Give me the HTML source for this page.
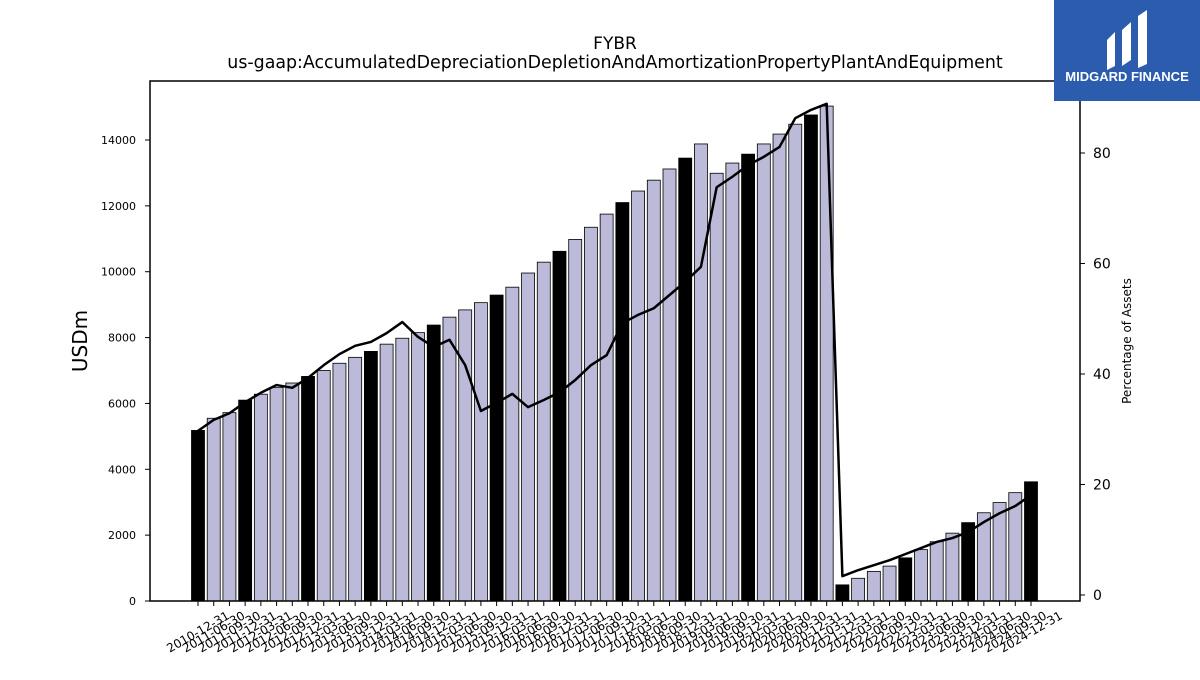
<!DOCTYPE html>
<html><head><meta charset="utf-8"><style>
body{margin:0;background:#fff;width:1200px;height:675px;overflow:hidden;font-family:"Liberation Sans","DejaVu Sans",sans-serif}
</style></head><body>
<svg id="chart" width="1200" height="675" xmlns="http://www.w3.org/2000/svg" font-family="DejaVu Sans, Liberation Sans, sans-serif">
<text x="615" y="49" text-anchor="middle" font-size="17">FYBR</text>
<text x="615" y="68" text-anchor="middle" font-size="17.4">us-gaap:AccumulatedDepreciationDepletionAndAmortizationPropertyPlantAndEquipment</text>
<g id="bars"></g>
<g id="line"></g>
<rect x="150" y="81" width="930" height="520" fill="none" stroke="#000" stroke-width="1.5"/>
<g id="axes"></g>
<text transform="translate(87,341) rotate(-90)" text-anchor="middle" font-size="20">USDm</text>
<text transform="translate(1131,341) rotate(-90)" text-anchor="middle" font-size="12">Percentage of Assets</text>
<g>
<rect x="1054" y="0" width="146" height="101" fill="#2b5cad"/>
<path d="M1107 40 L1115 32 L1115 66 L1107 70 Z M1122 30 L1131 22 L1131 60 L1122 66 Z M1138 16 L1147 10 L1147 64 L1138 68 Z" fill="#fff"/>
<text x="1127" y="81" text-anchor="middle" font-size="13" font-weight="bold" fill="#fff" font-family="Liberation Sans, sans-serif">MIDGARD FINANCE</text>
</g>
</svg>
<script>
const dates=["2010-12-31","2011-06-30","2011-09-30","2011-12-31","2012-03-31","2012-06-30","2012-09-30","2012-12-31","2013-03-31","2013-06-30","2013-09-30","2013-12-31","2014-03-31","2014-06-30","2014-09-30","2014-12-31","2015-03-31","2015-06-30","2015-09-30","2015-12-31","2016-03-31","2016-06-30","2016-09-30","2016-12-31","2017-03-31","2017-06-30","2017-09-30","2017-12-31","2018-03-31","2018-06-30","2018-09-30","2018-12-31","2019-03-31","2019-06-30","2019-09-30","2019-12-31","2020-03-31","2020-06-30","2020-09-30","2020-12-31","2021-03-31","2021-12-31","2022-03-31","2022-06-30","2022-09-30","2022-12-31","2023-03-31","2023-06-30","2023-09-30","2023-12-31","2024-03-31","2024-06-30","2024-09-30","2024-12-31"];
const values=[5180,5550,5720,6100,6280,6480,6620,6820,7000,7220,7400,7580,7800,7980,8150,8380,8620,8840,9060,9290,9530,9960,10290,10620,10980,11350,11750,12100,12450,12780,13120,13450,13880,12990,13300,13570,13880,14180,14480,14760,15030,490,690,900,1060,1310,1560,1800,2060,2380,2680,2990,3290,3620];
const pct=[29.7,31.7,32.9,34.9,36.6,38.0,37.5,39.3,41.6,43.6,45.1,45.8,47.4,49.4,46.7,44.9,46.2,41.6,33.3,34.8,36.4,34.0,35.3,36.7,38.9,41.6,43.4,49.2,50.7,51.9,54.3,56.7,59.4,73.8,75.7,77.8,79.3,81.1,86.3,87.8,88.9,3.4,4.5,5.4,6.3,7.4,8.5,9.6,10.3,11.4,13.2,14.8,16.1,18.1];
const leftTicks=[0,2000,4000,6000,8000,10000,12000,14000];
const rightTicks=[0,20,40,60,80];
const NS="http://www.w3.org/2000/svg";
function mk(t,a,p){const e=document.createElementNS(NS,t);for(const k in a)e.setAttribute(k,a[k]);p.appendChild(e);return e;}
const x0=198,x1=1031;
function xs(i){return x0+(x1-x0)*i/(dates.length-1);}
function yl(v){return 601-v*(461/14000);}
function yr(v){return 595-v*(442/80);}
const bars=document.getElementById('bars'),axes=document.getElementById('axes'),line=document.getElementById('line');
values.forEach((v,i)=>{
 const black=dates[i].endsWith('12-31');
 const r=mk('rect',{x:xs(i)-6.5,y:yl(v),width:13,height:yl(0)-yl(v),fill:black?'#000':'#bcbad9',stroke:'#000','stroke-width':0.8},bars);
 
 
 mk('line',{x1:xs(i),x2:xs(i),y1:601,y2:606,stroke:'#000','stroke-width':1},axes);
 const cx=xs(i), cy=636;
 const t=mk('text',{x:cx,y:cy,'text-anchor':'middle','font-size':12,transform:`rotate(-30 ${cx} ${cy-4})`},axes);
 
 
 t.textContent=dates[i];
});
const pl=mk('polyline',{points:pct.map((p,i)=>xs(i)+','+yr(p)).join(' '),fill:'none',stroke:'#000','stroke-width':2.5,'stroke-linejoin':'round'},line);


leftTicks.forEach(v=>{
 mk('line',{x1:145,x2:150,y1:yl(v),y2:yl(v),stroke:'#000'},axes);
 const t=mk('text',{x:136,y:yl(v)+4,'text-anchor':'end','font-size':11},axes);
 
 
 t.textContent=v;
});
rightTicks.forEach(v=>{
 mk('line',{x1:1080,x2:1085,y1:yr(v),y2:yr(v),stroke:'#000'},axes);
 const t=mk('text',{x:1093,y:yr(v)+5,'font-size':14},axes);
 
 
 t.textContent=v;
});
</script>
</body></html>
